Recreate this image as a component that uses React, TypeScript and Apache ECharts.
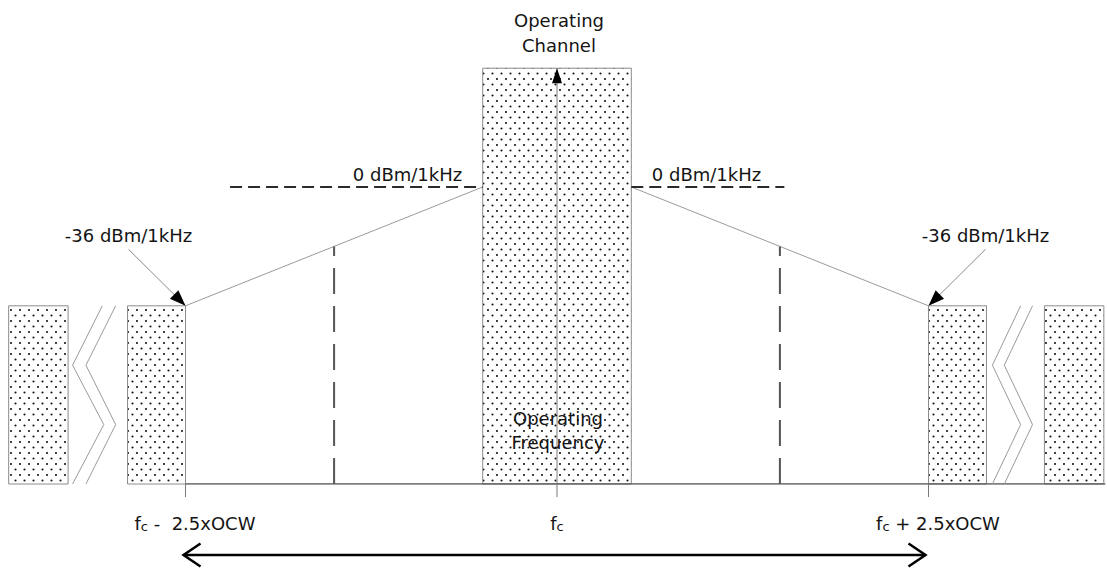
import React, { useEffect, useRef } from "react";
import * as echarts from "echarts";

// Frequency offsets are in multiples of OCW from fc; levels are in dBm/1kHz (schematic).
const floorLevel = -90;
const inBandLevel = 0;
const edgeLevel = -36;
const channelTopLevel = 36;

// Spectrum blocks (left edge, right edge, top level)
const blockLeft = [-3.69, -2.89, -0.5, 2.5, 3.28];
const blockRight = [-3.29, -2.5, 0.5, 2.89, 3.68];
const blockTop = [-36, -36, 36, -36, -36];

// Emission mask slopes
const maskLeft = [[-2.5, -36], [-0.5, 0]];
const maskRight = [[0.5, 0], [2.5, -36]];

// 0 dBm/1kHz reference lines
const refLineLeft = [[-2.2, 0], [-0.5, 0]];
const refLineRight = [[0.5, 0], [1.53, 0]];

// Dashed verticals
const markerX = [-1.5, 1.5];
const markerTop = [-18, -18];

// Baseline extent
const baselineExtent = [[-2.5, -90], [3.69, -90]];

// Axis-break zigzags
const breakLeftA = [[-3.06, -36], [-3.26, -54], [-3.05, -72], [-3.26, -90]];
const breakLeftB = [[-2.97, -36], [-3.17, -54], [-2.97, -72], [-3.17, -90]];
const breakRightA = [[3.12, -36], [2.93, -54], [3.12, -72], [2.93, -90]];
const breakRightB = [[3.2, -36], [3.01, -54], [3.2, -72], [3.01, -90]];

// Annotations
const edgeX = [-2.5, 2.5];
const edgeLabels = ["-36 dBm/1kHz", "-36 dBm/1kHz"];
const refLabelX = [-0.5, 0.5];
const refLabels = ["0 dBm/1kHz", "0 dBm/1kHz"];
const channelLabels = ["Operating\nChannel", "Operating\nFrequency"];
const channelLabelLevels = [channelTopLevel, floorLevel];

// Tick labels
const tickValues = [-2.5, 0, 2.5];
const tickLabels = [
  "{f|f}{s|c}{t| -  2.5xOCW}",
  "{f|f}{s|c}",
  "{f|f}{s|c}{t| + 2.5xOCW}",
];
const spanRange = [[-2.5, 2.5]];

const FONT = '"DejaVu Sans", sans-serif';
const TEXT = "#141414";

const dotTile =
  '<svg xmlns="http://www.w3.org/2000/svg" width="9" height="11">' +
  '<circle cx="2" cy="2" r="1.05" fill="#111"/>' +
  '<circle cx="6.5" cy="7.5" r="1.05" fill="#111"/>' +
  "</svg>";
const dotPattern: any = {
  image: "data:image/svg+xml;charset=utf-8," + encodeURIComponent(dotTile),
  repeat: "repeat",
  imageWidth: 9,
  imageHeight: 11,
};

function arrowHead(tip: number[], from: number[], len: number, half: number) {
  const dx = tip[0] - from[0];
  const dy = tip[1] - from[1];
  const d = Math.hypot(dx, dy) || 1;
  const ux = dx / d;
  const uy = dy / d;
  const bx = tip[0] - ux * len;
  const by = tip[1] - uy * len;
  return [
    [tip[0], tip[1]],
    [bx - uy * half, by + ux * half],
    [bx + uy * half, by - ux * half],
  ];
}

function lineSeries(data: number[][], style: any, z = 2) {
  return {
    type: "line",
    data,
    symbol: "none",
    silent: true,
    z,
    lineStyle: style,
  };
}

export default function App() {
  const ref = useRef<HTMLDivElement>(null);

  useEffect(() => {
    if (!ref.current) return;
    const chart = echarts.init(ref.current, null, { renderer: "svg" });

    const blocks = blockLeft.map((x, i) => [x, blockRight[i], blockTop[i]]);

    const option: any = {
      animation: false,
      backgroundColor: "#ffffff",
      grid: {
        left: -0.25,
        top: 2.2,
        width: 1114.5,
        height: 481.8,
        containLabel: false,
        outerBoundsMode: "none",
      },
      xAxis: {
        type: "value",
        min: -3.75,
        max: 3.75,
        show: false,
        splitLine: { show: false },
      },
      yAxis: {
        type: "value",
        min: -90,
        max: 56,
        show: false,
        splitLine: { show: false },
      },
      series: [
        {
          type: "custom",
          silent: true,
          z: 1,
          data: blocks,
          renderItem: (params: any, api: any) => {
            const p0 = api.coord([api.value(0), api.value(2)]);
            const p1 = api.coord([api.value(1), floorLevel]);
            return {
              type: "rect",
              shape: { x: p0[0], y: p0[1], width: p1[0] - p0[0], height: p1[1] - p0[1] },
              style: { fill: dotPattern, stroke: "#8c8c8c", lineWidth: 1 },
            };
          },
        },
        lineSeries(maskLeft, { color: "#9a9a9a", width: 1 }),
        lineSeries(maskRight, { color: "#9a9a9a", width: 1 }),
        lineSeries(refLineLeft, { color: "#2a2a2a", width: 2, type: [12, 6] }),
        lineSeries(refLineRight, { color: "#2a2a2a", width: 2, type: [12, 6] }),
        lineSeries(baselineExtent, { color: "#555555", width: 1.5 }),
        lineSeries(breakLeftA, { color: "#9a9a9a", width: 1 }),
        lineSeries(breakLeftB, { color: "#9a9a9a", width: 1 }),
        lineSeries(breakRightA, { color: "#9a9a9a", width: 1 }),
        lineSeries(breakRightB, { color: "#9a9a9a", width: 1 }),
        {
          // dashed verticals
          type: "custom",
          silent: true,
          z: 3,
          data: markerX.map((x, i) => [x, markerTop[i]]),
          renderItem: (params: any, api: any) => {
            const b = api.coord([api.value(0), floorLevel]);
            const t = api.coord([api.value(0), api.value(1)]);
            return {
              type: "line",
              shape: { x1: b[0], y1: b[1], x2: t[0], y2: t[1] },
              style: { stroke: "#555555", lineWidth: 2, lineDash: [26, 12] },
            };
          },
        },
        {
          // centre frequency line with arrow
          type: "custom",
          silent: true,
          z: 3,
          data: [[0, channelTopLevel]],
          renderItem: (params: any, api: any) => {
            const t = api.coord([api.value(0), api.value(1)]);
            const b = api.coord([api.value(0), floorLevel]);
            return {
              type: "group",
              children: [
                {
                  type: "line",
                  shape: { x1: b[0], y1: b[1], x2: t[0], y2: t[1] },
                  style: { stroke: "#7a7a7a", lineWidth: 1 },
                },
                {
                  type: "polygon",
                  shape: { points: arrowHead(t, b, 15, 5) },
                  style: { fill: "#000000" },
                },
              ],
            };
          },
        },
        {
          // ticks and tick labels
          type: "custom",
          silent: true,
          z: 3,
          data: tickValues.map((v) => [v, floorLevel]),
          renderItem: (params: any, api: any) => {
            const p = api.coord([api.value(0), api.value(1)]);
            const shift = api.value(0) === 0 ? 0 : 9.5;
            return {
              type: "group",
              children: [
                {
                  type: "line",
                  shape: { x1: p[0], y1: p[1], x2: p[0], y2: p[1] + 13 },
                  style: { stroke: "#7a7a7a", lineWidth: 1 },
                },
                {
                  type: "text",
                  style: {
                    text: tickLabels[params.dataIndex],
                    x: p[0] + shift,
                    y: p[1] + 39,
                    align: "center",
                    verticalAlign: "middle",
                    fontFamily: FONT,
                    fontSize: 18,
                    fill: TEXT,
                    rich: {
                      f: { fontFamily: FONT, fontSize: 18, fill: TEXT },
                      s: { fontFamily: FONT, fontSize: 13, fill: TEXT, padding: [6, 0, 0, 0] },
                      t: { fontFamily: FONT, fontSize: 18, fill: TEXT },
                    },
                  },
                },
              ],
            };
          },
        },
        {
          // -36 dBm pointers
          type: "custom",
          silent: true,
          z: 4,
          data: edgeX.map((x) => [x, edgeLevel]),
          renderItem: (params: any, api: any) => {
            const x = api.value(0);
            const tip = api.coord([x, api.value(1)]);
            const s = Math.sign(x);
            const start = [tip[0] + s * 57, tip[1] - 56.5];
            return {
              type: "group",
              children: [
                {
                  type: "line",
                  shape: { x1: start[0], y1: start[1], x2: tip[0], y2: tip[1] },
                  style: { stroke: "#8a8a8a", lineWidth: 1 },
                },
                {
                  type: "polygon",
                  shape: { points: arrowHead(tip, start, 16, 6) },
                  style: { fill: "#000000" },
                },
                {
                  type: "text",
                  style: {
                    text: edgeLabels[params.dataIndex],
                    x: start[0],
                    y: start[1] - 14,
                    align: "center",
                    verticalAlign: "middle",
                    fontFamily: FONT,
                    fontSize: 18,
                    fill: TEXT,
                  },
                },
              ],
            };
          },
        },
        {
          // 0 dBm labels
          type: "custom",
          silent: true,
          z: 4,
          data: refLabelX.map((x) => [x, inBandLevel]),
          renderItem: (params: any, api: any) => {
            const x = api.value(0);
            const p = api.coord([x, api.value(1)]);
            const s = Math.sign(x);
            return {
              type: "text",
              style: {
                text: refLabels[params.dataIndex],
                x: p[0] + s * 20.5,
                y: p[1] - 13,
                align: s < 0 ? "right" : "left",
                verticalAlign: "middle",
                fontFamily: FONT,
                fontSize: 18,
                fill: TEXT,
              },
            };
          },
        },
        {
          // Operating Channel / Operating Frequency
          type: "custom",
          silent: true,
          z: 4,
          data: channelLabelLevels.map((l) => [0, l]),
          renderItem: (params: any, api: any) => {
            const p = api.coord([api.value(0), api.value(1)]);
            const top = params.dataIndex === 0;
            return {
              type: "text",
              style: {
                text: channelLabels[params.dataIndex],
                x: p[0] + (top ? 2 : 1),
                y: p[1] + (top ? -35.5 : -54),
                align: "center",
                verticalAlign: "middle",
                lineHeight: top ? 25 : 24,
                fontFamily: FONT,
                fontSize: 18,
                fill: TEXT,
              },
            };
          },
        },
        {
          // double-headed span arrow
          type: "custom",
          silent: true,
          z: 4,
          data: spanRange,
          renderItem: (params: any, api: any) => {
            const a = api.coord([api.value(0), floorLevel]);
            const b = api.coord([api.value(1), floorLevel]);
            const y = a[1] + 71;
            const x0 = a[0] - 2;
            const x1 = b[0] - 3;
            const st = { stroke: "#000000", lineWidth: 2.5, fill: null };
            return {
              type: "group",
              children: [
                { type: "line", shape: { x1: x0, y1: y, x2: x1, y2: y }, style: st },
                {
                  type: "polyline",
                  shape: { points: [[x0 + 17, y - 11.5], [x0, y], [x0 + 17, y + 11.5]] },
                  style: st,
                },
                {
                  type: "polyline",
                  shape: { points: [[x1 - 17, y - 11.5], [x1, y], [x1 - 17, y + 11.5]] },
                  style: st,
                },
              ],
            };
          },
        },
      ],
    };

    chart.setOption(option);
    return () => chart.dispose();
  }, []);

  return (
    <div
      ref={ref}
      style={{ position: "fixed", left: 0, top: 0, width: 1107, height: 570, background: "#fff" }}
    />
  );
}
